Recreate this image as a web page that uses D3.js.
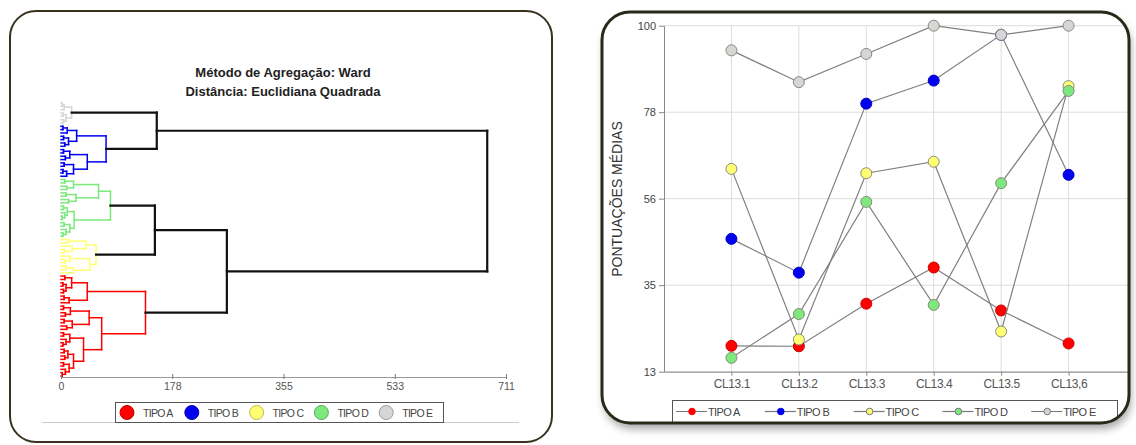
<!DOCTYPE html>
<html>
<head>
<meta charset="utf-8">
<script src="https://cdn.jsdelivr.net/npm/d3@7"></script>
<style>
  body { margin: 0; background: #fff; }
  svg { display: block; font-family: "Liberation Sans", Arial, sans-serif; }
</style>
</head>
<body>
<svg id="chart"></svg>
<script>
// ---- data: dendrogram (Ward, squared euclidean) ----
// node = [height, left, right], leaf = 0, string = cluster subtree
const clusterKeys = ["A", "B", "C", "D", "E"];
const clusterNames = ["TIPO A", "TIPO B", "TIPO C", "TIPO D", "TIPO E"];
const clusterColors = ["#ff0000", "#0000f0", "#ffff73", "#7de87d", "#d6d6d6"];

const treeE = [17, [5, [2, 0, 0], 0], [8, [3, 0, 0], [4, 0, 0]]];
const treeB = [72, [25, [10, [3, 0, 0], 0], [12, [4, 0, 0], [6, 0, 0]]],
                   [42, [14, [4, 0, 0], [7, 0, 0]], [20, [5, 0, 0], [9, [3, 0, 0], 0]]]];
const treeD = [79, [60, [20, [6, 0, 0], [9, 0, 0]], [24, [8, 0, 0], [12, 0, 0]]],
                   [21, [10, [4, 0, 0], [6, 0, [2, 0, 0]]], [14, [5, 0, 0], [8, 0, [3, 0, 0]]]]];
const treeC = [56, [40, [12, 0, 0], [18, 0, [5, 0, 0]]],
                   [46, [14, 0, [6, 0, 0]], [20, [8, 0, 0], 0]]];
const treeA = [135, [42, [17, [6, 0, 0], [8, [3, 0, 0], [4, 0, 0]]], [13, [5, 0, 0], 0]],
                    [65, [45, [15, [4, 0, 0], [7, 0, 0]], [18, [5, 0, 0], [9, 0, 0]]],
                         [36, [14, [4, 0, 0], [8, 0, [3, 0, 0]]],
                              [20, [11, [5, 0, 0], [6, 0, 0]], [13, [4, 0, 0], [7, 0, [2, 0, 0]]]]]]];
const topTree = [681, [153, "E", "B"], [265, [150, "D", "C"], "A"]];

const dendroTicks = [0, 177.75, 355.5, 533.25, 711];
const dendroTickLabels = ["0", "178", "355", "533", "711"];

// ---- data: mean scores per type ----
const categories = ["CL13.1", "CL13.2", "CL13.3", "CL13.4", "CL13.5", "CL13,6"];
const tipoA = [19.5, 19.4, 30.1, 39.2, 28.4, 20.1];
const tipoB = [46.4, 37.9, 80.4, 86.2, 97.7, 62.5];
const tipoC = [64.0, 21.1, 62.9, 65.8, 23.1, 84.8];
const tipoD = [16.5, 27.5, 55.7, 29.8, 60.4, 83.6];
const tipoE = [93.8, 85.8, 92.9, 100, 97.7, 100];
const yTicks = [13, 34.75, 56.5, 78.25, 100];
const yTickLabels = ["13", "35", "56", "78", "100"];

const W = 1136, H = 445;
const svg = d3.select("#chart").attr("width", W).attr("height", H);

const defs = svg.append("defs");
const f = defs.append("filter").attr("id", "shadow")
  .attr("x", "-5%").attr("y", "-5%").attr("width", "115%").attr("height", "125%");
f.append("feDropShadow").attr("dx", 2).attr("dy", 6).attr("stdDeviation", 4)
  .attr("flood-color", "#000").attr("flood-opacity", 0.35);

// =================== LEFT: dendrogram ===================
svg.append("rect").attr("x", 10).attr("y", 11).attr("width", 542).attr("height", 431)
  .attr("rx", 26).attr("fill", "#fff").attr("stroke", "#3a3220").attr("stroke-width", 2);

const trees = { A: treeA, B: treeB, C: treeC, D: treeD, E: treeE };
function build(node, cluster) {
  if (typeof node === "string") {
    const n = build(trees[node], node);
    n.clusterRoot = true;
    return n;
  }
  if (node === 0) return { h: 0, cluster: cluster };
  return { h: node[0], cluster: cluster, children: [build(node[1], cluster), build(node[2], cluster)] };
}
const root = d3.hierarchy(build(topTree, null));
const leaves = root.leaves();

const dx = d3.scaleLinear().domain([0, 711]).range([61, 506]);
const dy = d3.scalePoint().domain(d3.range(leaves.length)).range([103, 376]);
leaves.forEach((l, i) => l.py = dy(i));
root.eachAfter(n => { if (n.children) n.py = (n.children[0].py + n.children[1].py) / 2; });

const colorOf = k => clusterColors[clusterKeys.indexOf(k)];
const dg = svg.append("g").attr("fill", "none").attr("stroke-linecap", "square");

root.descendants().forEach(n => {
  if (n.children) {
    const c = n.data.cluster ? colorOf(n.data.cluster) : "#111";
    dg.append("line")
      .attr("x1", dx(n.data.h)).attr("x2", dx(n.data.h))
      .attr("y1", n.children[0].py).attr("y2", n.children[1].py)
      .attr("stroke", c).attr("stroke-width", n.data.cluster ? 1.5 : 2.2);
  }
  if (n.parent) {
    const black = !n.data.cluster || n.data.clusterRoot;
    dg.append("line")
      .attr("x1", dx(n.data.h)).attr("x2", dx(n.parent.data.h))
      .attr("y1", n.py).attr("y2", n.py)
      .attr("stroke", black ? "#111" : colorOf(n.data.cluster))
      .attr("stroke-width", black ? 2.2 : 1.5);
  }
});

// titles
svg.append("text").attr("x", 283).attr("y", 77).attr("text-anchor", "middle")
  .attr("font-size", 13).attr("font-weight", "bold").attr("fill", "#222")
  .text("Método de Agregação: Ward");
svg.append("text").attr("x", 283).attr("y", 96).attr("text-anchor", "middle")
  .attr("font-size", 13).attr("font-weight", "bold").attr("fill", "#222")
  .text("Distância: Euclidiana Quadrada");

// axis
const dAxis = svg.append("g").attr("transform", "translate(0,377)")
  .call(d3.axisBottom(dx).tickValues(dendroTicks).tickSize(-3).tickSizeOuter(0)
    .tickFormat((d, i) => dendroTickLabels[i]));
dAxis.select(".domain").attr("stroke", "#999");
dAxis.selectAll(".tick line").attr("stroke", "#777").attr("y1", 2);
dAxis.selectAll(".tick text").attr("font-size", 10.5).attr("fill", "#555").attr("y", 6)
  .attr("font-family", "Liberation Sans, Arial, sans-serif");

// legend
svg.append("line").attr("x1", 42).attr("x2", 519).attr("y1", 422.5).attr("y2", 422.5)
  .attr("stroke", "#ccc");
svg.append("rect").attr("x", 115.5).attr("y", 402.5).attr("width", 328).attr("height", 20)
  .attr("fill", "#fff").attr("stroke", "#555");
clusterNames.forEach((name, i) => {
  const x = 127 + i * 64.8;
  svg.append("circle").attr("cx", x).attr("cy", 412.5).attr("r", 7)
    .attr("fill", clusterColors[i]).attr("stroke", d3.color(clusterColors[i]).darker(0.9));
  svg.append("text").attr("x", x + 16).attr("y", 416.5).attr("font-size", 10.5)
    .attr("letter-spacing", -0.7).attr("fill", "#444").text(name);
});

// =================== RIGHT: line chart ===================
const frame = { x: 602, y: 12, w: 527, h: 411, r: 28 };
svg.append("rect").attr("x", frame.x).attr("y", frame.y).attr("width", frame.w).attr("height", frame.h)
  .attr("rx", frame.r).attr("fill", "#fff").attr("filter", "url(#shadow)");
defs.append("clipPath").attr("id", "frameClip").append("rect")
  .attr("x", frame.x).attr("y", frame.y).attr("width", frame.w).attr("height", frame.h).attr("rx", frame.r);

const rc = svg.append("g").attr("clip-path", "url(#frameClip)");
const px = d3.scalePoint().domain(categories).range([664, 1136]).padding(1);
const py = d3.scaleLinear().domain([13, 100]).range([371.7, 25.7]);

// grid
rc.append("g").selectAll("line").data(yTicks).join("line")
  .attr("x1", 664).attr("x2", 1136).attr("y1", d => py(d)).attr("y2", d => py(d))
  .attr("stroke", "#dcdcdc");
rc.append("g").selectAll("line").data(categories).join("line")
  .attr("x1", d => px(d)).attr("x2", d => px(d)).attr("y1", py(100)).attr("y2", py(13))
  .attr("stroke", "#dcdcdc");

// axes
const yAx = rc.append("g").attr("transform", "translate(664,0)")
  .call(d3.axisLeft(py).tickValues(yTicks).tickSize(5).tickSizeOuter(0)
    .tickFormat((d, i) => yTickLabels[i]));
yAx.select(".domain").attr("stroke", "#888");
yAx.selectAll(".tick line").attr("stroke", "#888");
yAx.selectAll(".tick text").attr("font-size", 11).attr("fill", "#444")
  .attr("font-family", "Liberation Sans, Arial, sans-serif");

const xAx = rc.append("g").attr("transform", "translate(0,371.7)")
  .call(d3.axisBottom(px).tickSize(4).tickSizeOuter(0));
xAx.select(".domain").attr("stroke", "#888");
xAx.selectAll(".tick line").attr("stroke", "#888");
xAx.selectAll(".tick text").attr("font-size", 12).attr("fill", "#555").attr("y", 8)
  .attr("letter-spacing", -0.4).attr("font-family", "Liberation Sans, Arial, sans-serif");

rc.append("text").attr("transform", "translate(622,199) rotate(-90)")
  .attr("text-anchor", "middle").attr("font-size", 14).attr("fill", "#333")
  .text("PONTUAÇÕES MÉDIAS");

// series
const series = [tipoA, tipoB, tipoC, tipoD, tipoE];
const line = d3.line().x((d, i) => px(categories[i])).y(d => py(d));
series.forEach((vals, s) => {
  rc.append("path").datum(vals).attr("d", line)
    .attr("fill", "none").attr("stroke", "#808080").attr("stroke-width", 1.2);
  rc.append("g").selectAll("circle").data(vals).join("circle")
    .attr("cx", (d, i) => px(categories[i])).attr("cy", d => py(d)).attr("r", 5.5)
    .attr("fill", clusterColors[s])
    .attr("stroke", s < 2 ? d3.color(clusterColors[s]).darker(0.6) : "#8a8a7a")
    .attr("stroke-width", 1);
});

// legend
rc.append("rect").attr("x", 672.5).attr("y", 400.5).attr("width", 445).attr("height", 30)
  .attr("fill", "#fff").attr("stroke", "#555");
clusterNames.forEach((name, i) => {
  const x0 = 676 + i * 88.8;
  rc.append("line").attr("x1", x0).attr("x2", x0 + 31).attr("y1", 411.5).attr("y2", 411.5)
    .attr("stroke", "#777").attr("stroke-width", 1.2);
  rc.append("circle").attr("cx", x0 + 16).attr("cy", 411.5).attr("r", 3.3)
    .attr("fill", clusterColors[i])
    .attr("stroke", i < 2 ? clusterColors[i] : "#777");
  rc.append("text").attr("x", x0 + 32).attr("y", 415.5).attr("font-size", 11)
    .attr("letter-spacing", -0.6).attr("fill", "#444").text(name);
});

// frame border on top
svg.append("rect").attr("x", frame.x).attr("y", frame.y).attr("width", frame.w).attr("height", frame.h)
  .attr("rx", frame.r).attr("fill", "none").attr("stroke", "#2a2818").attr("stroke-width", 3);
</script>
</body>
</html>
